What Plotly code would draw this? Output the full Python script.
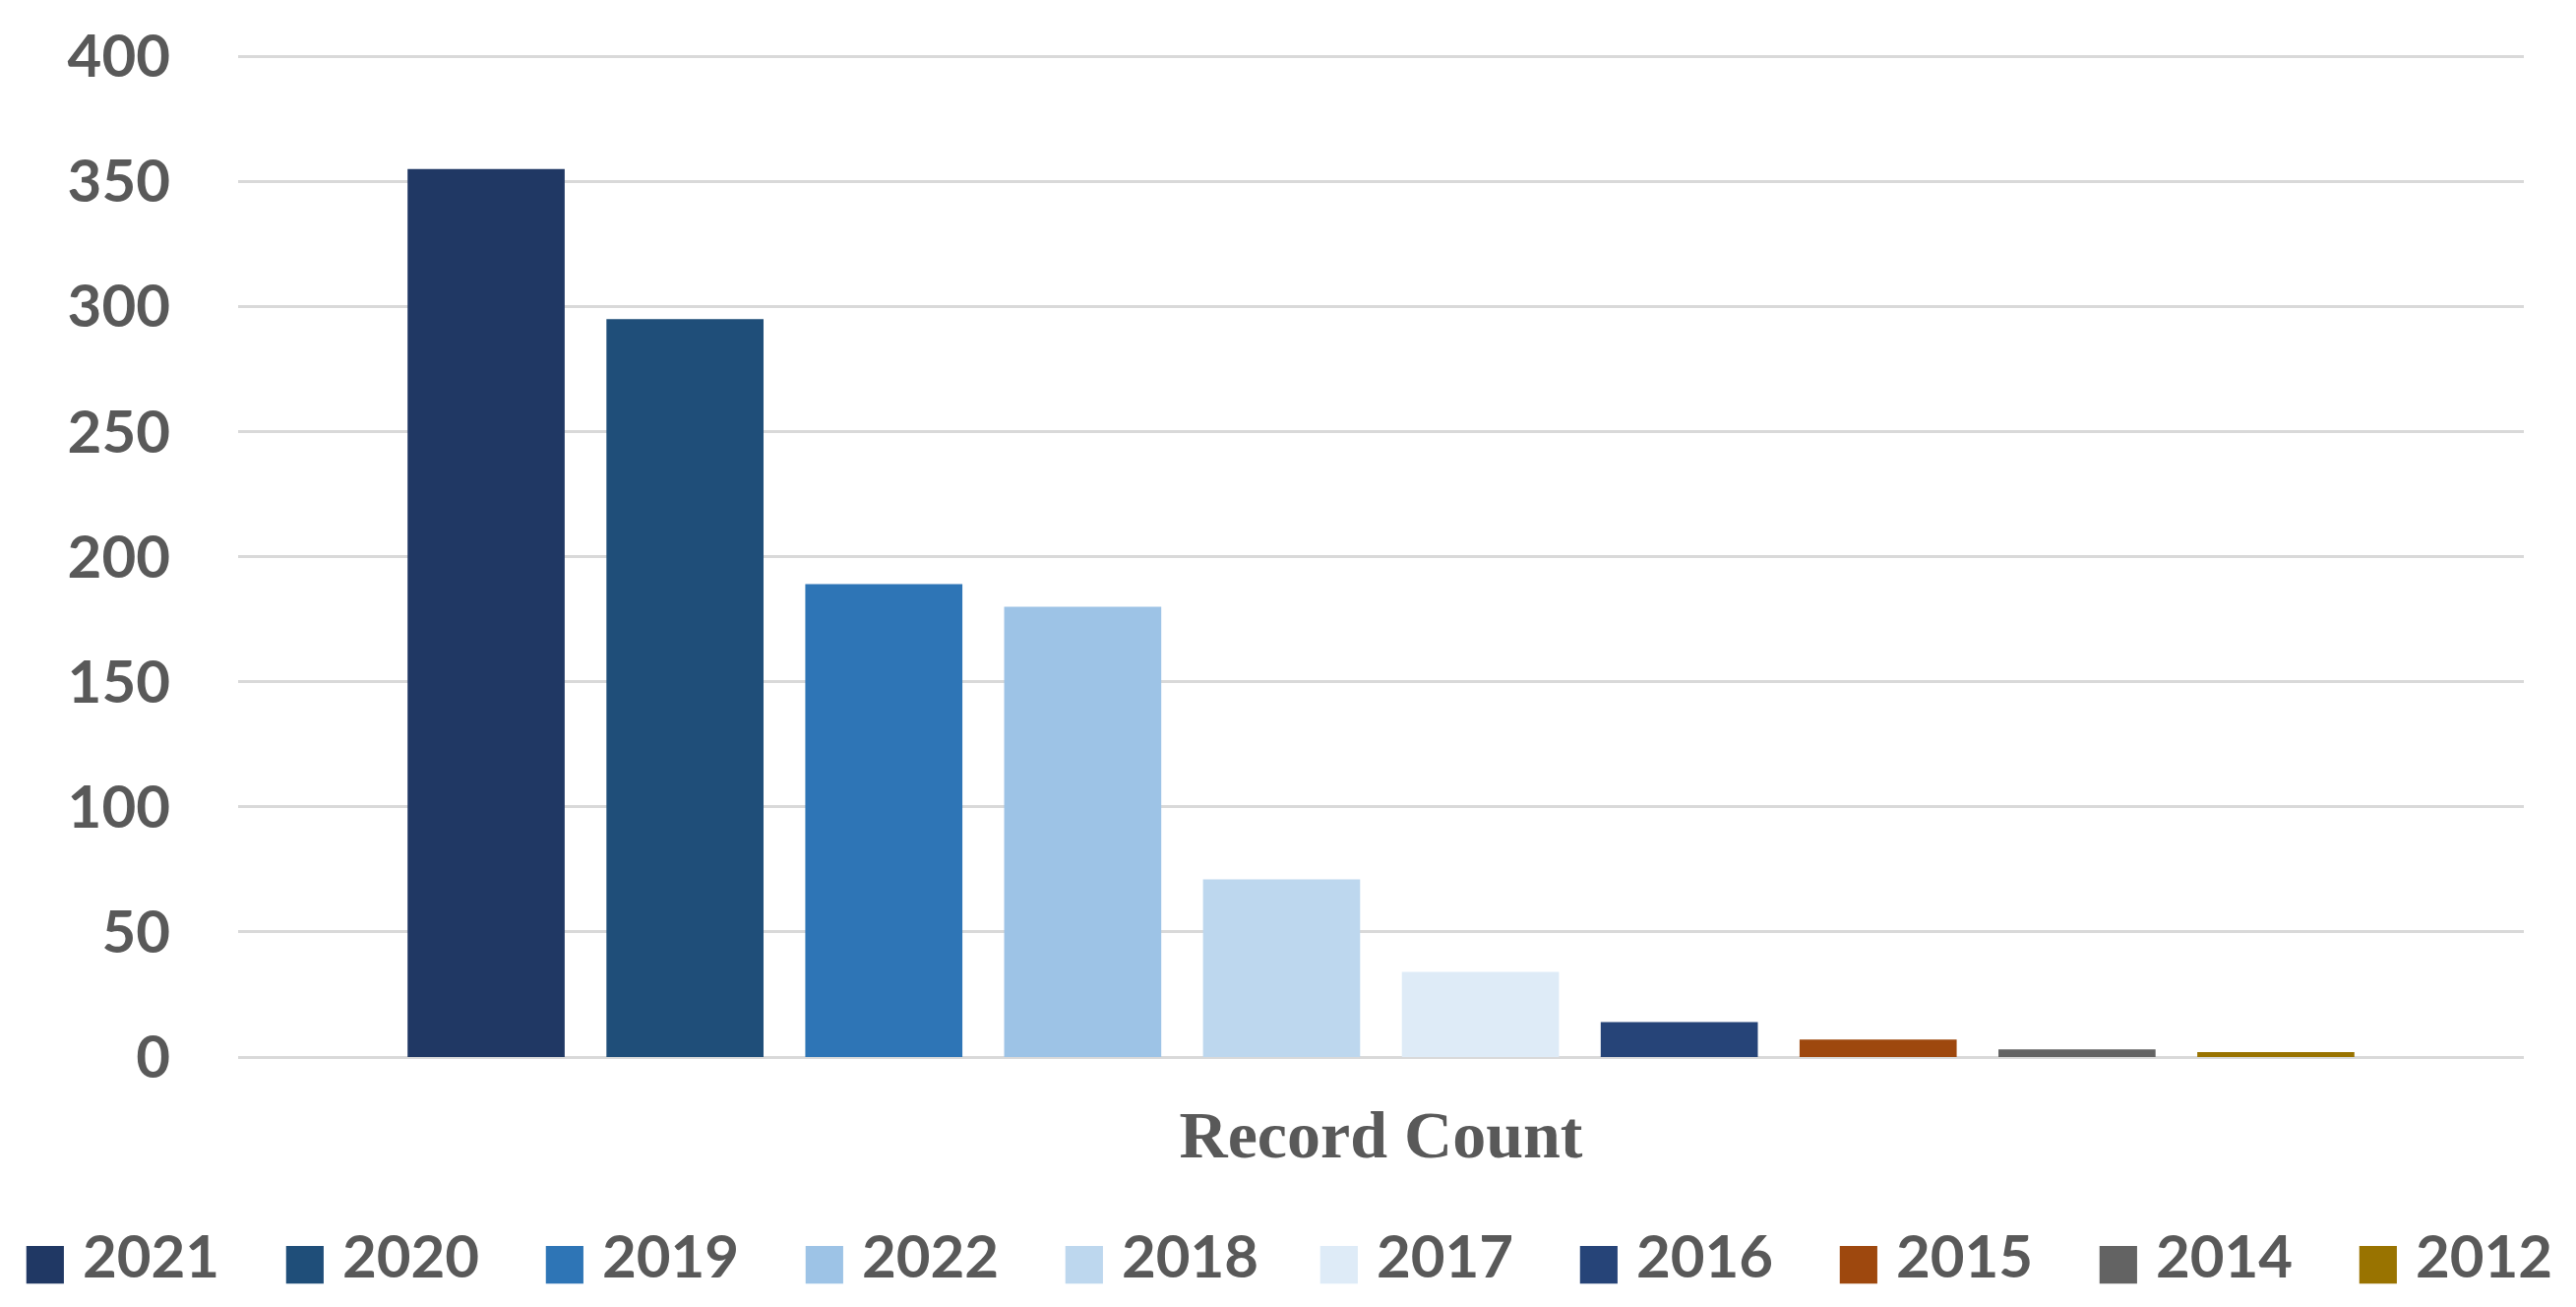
import plotly.graph_objects as go

category = ["Record Count"]
years = ["2021", "2020", "2019", "2022", "2018", "2017", "2016", "2015", "2014", "2012"]
counts = [355, 295, 189, 180, 71, 34, 14, 7, 3, 2]
colors = ["#203864", "#1F4E79", "#2E75B6", "#9DC3E6", "#BDD7EE",
          "#DEEBF7", "#264478", "#9E480E", "#636363", "#997300"]
y_ticks = [0, 50, 100, 150, 200, 250, 300, 350, 400]

fig = go.Figure()
for yr, v, c in zip(years, counts, colors):
    fig.add_trace(go.Bar(x=category, y=[v], name=yr, marker_color=c,
                         marker_line_width=0, showlegend=False))
# legend entries: coloured square glyph + year, split over two legend boxes
for i, (yr, c) in enumerate(zip(years, colors)):
    label = (f"<span style='color:{c};font-family:DejaVu Sans;font-size:50px'>■</span>"
             f"&nbsp;{yr}")
    fig.add_trace(go.Scatter(x=[None], y=[None], mode="markers", name=label,
                             legend="legend" if i < 5 else "legend2",
                             marker=dict(size=1, color="rgba(0,0,0,0)")))

leg_common = dict(orientation="h", yref="paper", y=-0.1968, yanchor="middle",
                  xanchor="left",
                  font=dict(family="Lato", size=60, color="#595959", weight="bold"),
                  entrywidth=219, entrywidthmode="pixels", itemclick=False,
                  itemwidth=30, bgcolor="rgba(0,0,0,0)")

fig.update_layout(
    width=2618, height=1328,
    paper_bgcolor="white", plot_bgcolor="white",
    barmode="group", bargap=0.13, bargroupgap=0.21,
    margin=dict(l=234, r=61, t=48, b=262, autoexpand=False),
    font=dict(family="Lato", color="#595959"),
    showlegend=True,
    legend=dict(x=-0.1119, **leg_common),
    legend2=dict(x=0.4542, **leg_common),
    xaxis=dict(type="category", showgrid=False, showline=False, ticks="",
               tickfont=dict(family="Liberation Serif", size=68, color="#595959", weight="bold"),
               ticklabelstandoff=33),
    yaxis=dict(range=[0, 400.5], tickvals=y_ticks, showgrid=True, gridcolor="#D9D9D9",
               gridwidth=3, zeroline=True, zerolinecolor="#D9D9D9", zerolinewidth=3,
               showline=False, ticks="",
               tickfont=dict(family="Lato", size=60, color="#595959", weight="bold"),
               ticklabelstandoff=68),
)

fig.write_html("out.html")
